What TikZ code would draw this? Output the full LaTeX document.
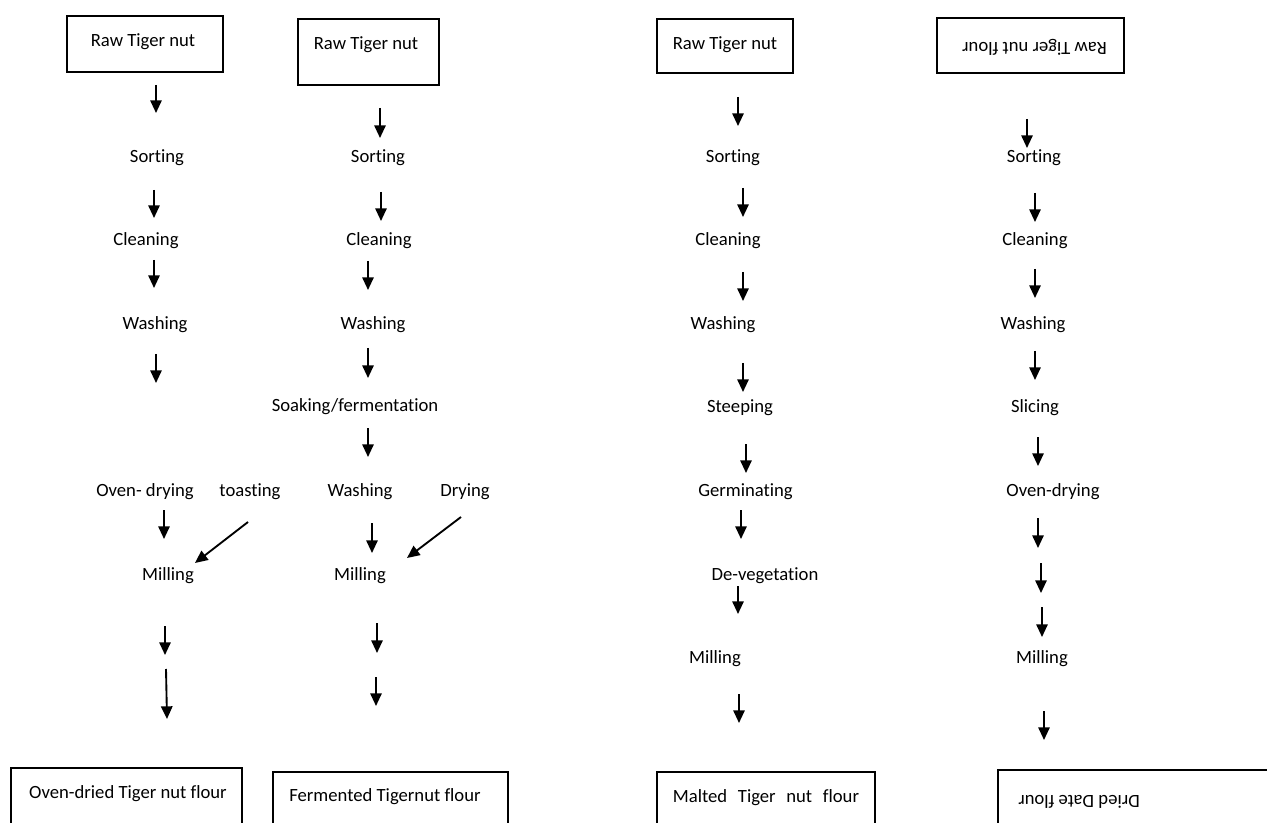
\documentclass[tikz,border=0pt]{standalone}
\usepackage{fontspec}
\setmainfont{Carlito}[Ligatures=NoCommon]
\usetikzlibrary{arrows.meta}
\begin{document}
\begin{tikzpicture}[x=0.75pt,y=-0.75pt,
  lbl/.style={inner sep=0pt, text height=9.5pt, text depth=3pt, font=\fontsize{14}{16}\selectfont},
  boxn/.style 2 args={draw, line width=0.9pt, inner sep=0pt, minimum width=#1*0.75pt, minimum height=#2*0.75pt},
  arr/.style={line width=1.4pt, -{Triangle[length=9.5pt,width=8.5pt]}},
  flip/.style={rotate=180}]
\useasboundingbox (0,0) rectangle (1267,823);
\clip (0,0) rectangle (1267,823);

% ---------------- Column 1 ----------------
\node[boxn={156}{56}] (c1top) at (145,44) {};
\node[lbl] (c1t) at (143,42) {Raw Tiger nut};
\node[lbl] (c1s) at (157,158) {Sorting};
\node[lbl] (c1c) at (146,241) {Cleaning};
\node[lbl] (c1w) at (155,325) {Washing};
\node[lbl] (c1o) at (145,492) {Oven- drying};
\node[lbl] (c1to) at (250,492) {toasting};
\node[lbl] (c1m) at (168,576) {Milling};
\node[boxn={231}{82}] (c1bot) at (126.5,809) {};
\node[lbl] (c1bt) at (128,794) {Oven-dried Tiger nut flour};

\coordinate (c1a1s) at (156,85);  \coordinate (c1a1e) at (156,113);
\coordinate (c1a2s) at (154,190); \coordinate (c1a2e) at (154,218);
\coordinate (c1a3s) at (154,260); \coordinate (c1a3e) at (154,288);
\coordinate (c1a4s) at (156,354); \coordinate (c1a4e) at (156,383);
\coordinate (c1a5s) at (164,510); \coordinate (c1a5e) at (164,539);
\coordinate (c1d1s) at (248,522); \coordinate (c1d1e) at (195,563);
\coordinate (c1a6s) at (165,626); \coordinate (c1a6e) at (165,655);
\coordinate (c1a7s) at (166,669); \coordinate (c1a7e) at (167,719);
\foreach \i in {a1,a2,a3,a4,a5,d1,a6,a7} \draw[arr] (c1\i s) -- (c1\i e);

% ---------------- Column 2 ----------------
\node[boxn={141}{66}] (c2top) at (368.5,52) {};
\node[lbl] (c2t) at (366,45) {Raw Tiger nut};
\node[lbl] (c2s) at (378,158) {Sorting};
\node[lbl] (c2c) at (379,241) {Cleaning};
\node[lbl] (c2w) at (373,325) {Washing};
\node[lbl] (c2f) at (355,407) {Soaking/fermentation};
\node[lbl] (c2w2) at (360,492) {Washing};
\node[lbl] (c2dr) at (465,492) {Drying};
\node[lbl] (c2m) at (360,576) {Milling};
\node[boxn={235}{78}] (c2bot) at (390.5,811) {};
\node[lbl] (c2bt) at (385,797) {Fermented Tigernut flour};

\coordinate (c2a1s) at (380,108); \coordinate (c2a1e) at (380,138);
\coordinate (c2a2s) at (381,192); \coordinate (c2a2e) at (381,221);
\coordinate (c2a3s) at (368,261); \coordinate (c2a3e) at (368,290);
\coordinate (c2a4s) at (368,348); \coordinate (c2a4e) at (368,378);
\coordinate (c2a5s) at (368,428); \coordinate (c2a5e) at (368,457);
\coordinate (c2a6s) at (372,523); \coordinate (c2a6e) at (372,553);
\coordinate (c2d1s) at (461,517); \coordinate (c2d1e) at (407,558);
\coordinate (c2a7s) at (377,623); \coordinate (c2a7e) at (377,653);
\coordinate (c2a8s) at (376,677); \coordinate (c2a8e) at (376,706);
\foreach \i in {a1,a2,a3,a4,a5,a6,d1,a7,a8} \draw[arr] (c2\i s) -- (c2\i e);

% ---------------- Column 3 ----------------
\node[boxn={136}{54}] (c3top) at (725,46) {};
\node[lbl] (c3t) at (725,45) {Raw Tiger nut};
\node[lbl] (c3s) at (733,158) {Sorting};
\node[lbl] (c3c) at (728,241) {Cleaning};
\node[lbl] (c3w) at (723,325) {Washing};
\node[lbl] (c3st) at (740,408) {Steeping};
\node[lbl] (c3g) at (745.5,492) {Germinating};
\node[lbl] (c3d) at (765,576) {De-vegetation};
\node[lbl] (c3m) at (715,659) {Milling};
\node[boxn={218}{78}] (c3bot) at (766,811) {};
\node[lbl] (c3bt) at (766,798) {Malted\hspace{8pt}Tiger\hspace{8pt}nut\hspace{8pt}flour};

\coordinate (c3a1s) at (738,97);  \coordinate (c3a1e) at (738,126);
\coordinate (c3a2s) at (743,188); \coordinate (c3a2e) at (743,217);
\coordinate (c3a3s) at (743,272); \coordinate (c3a3e) at (743,301);
\coordinate (c3a4s) at (743,363); \coordinate (c3a4e) at (743,392);
\coordinate (c3a5s) at (746,444); \coordinate (c3a5e) at (746,473);
\coordinate (c3a6s) at (741,510); \coordinate (c3a6e) at (741,539);
\coordinate (c3a7s) at (738,586); \coordinate (c3a7e) at (738,614);
\coordinate (c3a8s) at (739,694); \coordinate (c3a8e) at (739,723);
\foreach \i in {a1,a2,a3,a4,a5,a6,a7,a8} \draw[arr] (c3\i s) -- (c3\i e);

% ---------------- Column 4 ----------------
\node[boxn={187}{55}] (c4top) at (1030.5,45.5) {};
\node[lbl,flip] (c4t) at (1034.5,47) {Raw Tiger nut flour};
\node[lbl] (c4s) at (1034,158) {Sorting};
\node[lbl] (c4c) at (1035,241) {Cleaning};
\node[lbl] (c4w) at (1033,325) {Washing};
\node[lbl] (c4sl) at (1035,408) {Slicing};
\node[lbl] (c4o) at (1053,492) {Oven-drying};
\node[lbl] (c4m) at (1042,659) {Milling};
\node[boxn={292}{80}] (c4bot) at (1144,810) {};
\node[lbl,flip] (c4bt) at (1079,800) {Dried Date flour};

\coordinate (c4a1s) at (1027,119); \coordinate (c4a1e) at (1027,148);
\coordinate (c4a2s) at (1035,193); \coordinate (c4a2e) at (1035,222);
\coordinate (c4a3s) at (1035,269); \coordinate (c4a3e) at (1035,298);
\coordinate (c4a4s) at (1035,351); \coordinate (c4a4e) at (1035,380);
\coordinate (c4a5s) at (1038,437); \coordinate (c4a5e) at (1038,466);
\coordinate (c4a6s) at (1038,518); \coordinate (c4a6e) at (1038,548);
\coordinate (c4a7s) at (1041,563); \coordinate (c4a7e) at (1041,593);
\coordinate (c4a8s) at (1042,607); \coordinate (c4a8e) at (1042,637);
\coordinate (c4a9s) at (1044,711); \coordinate (c4a9e) at (1044,740);
\foreach \i in {a1,a2,a3,a4,a5,a6,a7,a8,a9} \draw[arr] (c4\i s) -- (c4\i e);
\end{tikzpicture}
\end{document}
